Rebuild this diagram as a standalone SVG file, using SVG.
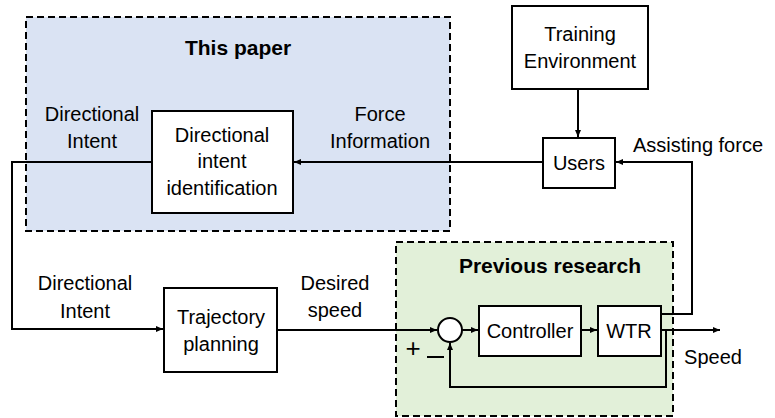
<svg xmlns="http://www.w3.org/2000/svg" width="775" height="418" viewBox="0 0 775 418">
<defs>
<marker id="arr" markerWidth="8" markerHeight="8" refX="7" refY="4" orient="auto" markerUnits="userSpaceOnUse">
<path d="M0,1 L7,4 L0,7 Z" fill="#000"/>
</marker>
<style>
.t{font-family:"Liberation Sans",Arial,sans-serif;font-size:20px;fill:#000;text-anchor:middle}
.b{font-weight:bold;font-size:21px}
.box{fill:#fff;stroke:#000;stroke-width:2}
.grp{stroke:#000;stroke-width:2;stroke-dasharray:7 4}
.ln{fill:none;stroke:#000;stroke-width:2}
</style>
</defs>
<rect width="775" height="418" fill="#fff"/>
<g id="this-paper">
<rect class="grp" x="26" y="17" width="424" height="214" fill="#dae3f3"/>
<text class="t b" x="238" y="55">This paper</text>
</g>
<g id="previous-research">
<rect class="grp" x="396" y="242" width="277" height="174" fill="#e2f0d9"/>
<text class="t b" x="550" y="273">Previous research</text>
</g>
<g id="connectors">
<path class="ln" d="M543,162 H294" marker-end="url(#arr)"/>
<path class="ln" d="M152,162 H12 V329 H163" marker-end="url(#arr)"/>
<path class="ln" d="M578,89 V137" marker-end="url(#arr)"/>
<path class="ln" d="M661,314 H692 V162 H616" marker-end="url(#arr)"/>
<path class="ln" d="M277,330 H437" marker-end="url(#arr)"/>
<path class="ln" d="M462,330 H478" marker-end="url(#arr)"/>
<path class="ln" d="M581,330 H597" marker-end="url(#arr)"/>
<path class="ln" d="M661,330 H720" marker-end="url(#arr)"/>
<path class="ln" d="M666,330 V387 H450 V343" marker-end="url(#arr)"/>
</g>
<g id="dii">
<rect class="box" x="152" y="111" width="141" height="102"/>
<text class="t" x="222" y="142">Directional</text>
<text class="t" x="222" y="168">intent</text>
<text class="t" x="222" y="195">identification</text>
</g>
<g id="training-env">
<rect class="box" x="512" y="6" width="136" height="83"/>
<text class="t" x="580" y="41">Training</text>
<text class="t" x="580" y="68">Environment</text>
</g>
<g id="users">
<rect class="box" x="543" y="138" width="72" height="50"/>
<text class="t" x="579" y="170">Users</text>
</g>
<g id="trajectory">
<rect class="box" x="164" y="288" width="113" height="84"/>
<text class="t" x="221" y="324">Trajectory</text>
<text class="t" x="221" y="351">planning</text>
</g>
<g id="sum">
<circle cx="450" cy="330" r="12" fill="#fff" stroke="#000" stroke-width="2"/>
<text class="t" x="413" y="357" style="font-size:26px">+</text>
<path d="M427,357 H444" stroke="#000" stroke-width="2"/>
</g>
<g id="controller">
<rect class="box" x="479" y="306" width="102" height="50"/>
<text class="t" x="530" y="338">Controller</text>
</g>
<g id="wtr">
<rect class="box" x="598" y="306" width="63" height="50"/>
<text class="t" x="629" y="338">WTR</text>
</g>
<g id="labels">
<text class="t" x="92" y="121">Directional</text>
<text class="t" x="92" y="148">Intent</text>
<text class="t" x="380" y="121">Force</text>
<text class="t" x="380" y="148">Information</text>
<text class="t" x="698" y="152">Assisting force</text>
<text class="t" x="85" y="290">Directional</text>
<text class="t" x="85" y="318">Intent</text>
<text class="t" x="335" y="290">Desired</text>
<text class="t" x="335" y="317">speed</text>
<text class="t" x="713" y="364">Speed</text>
</g>
</svg>
